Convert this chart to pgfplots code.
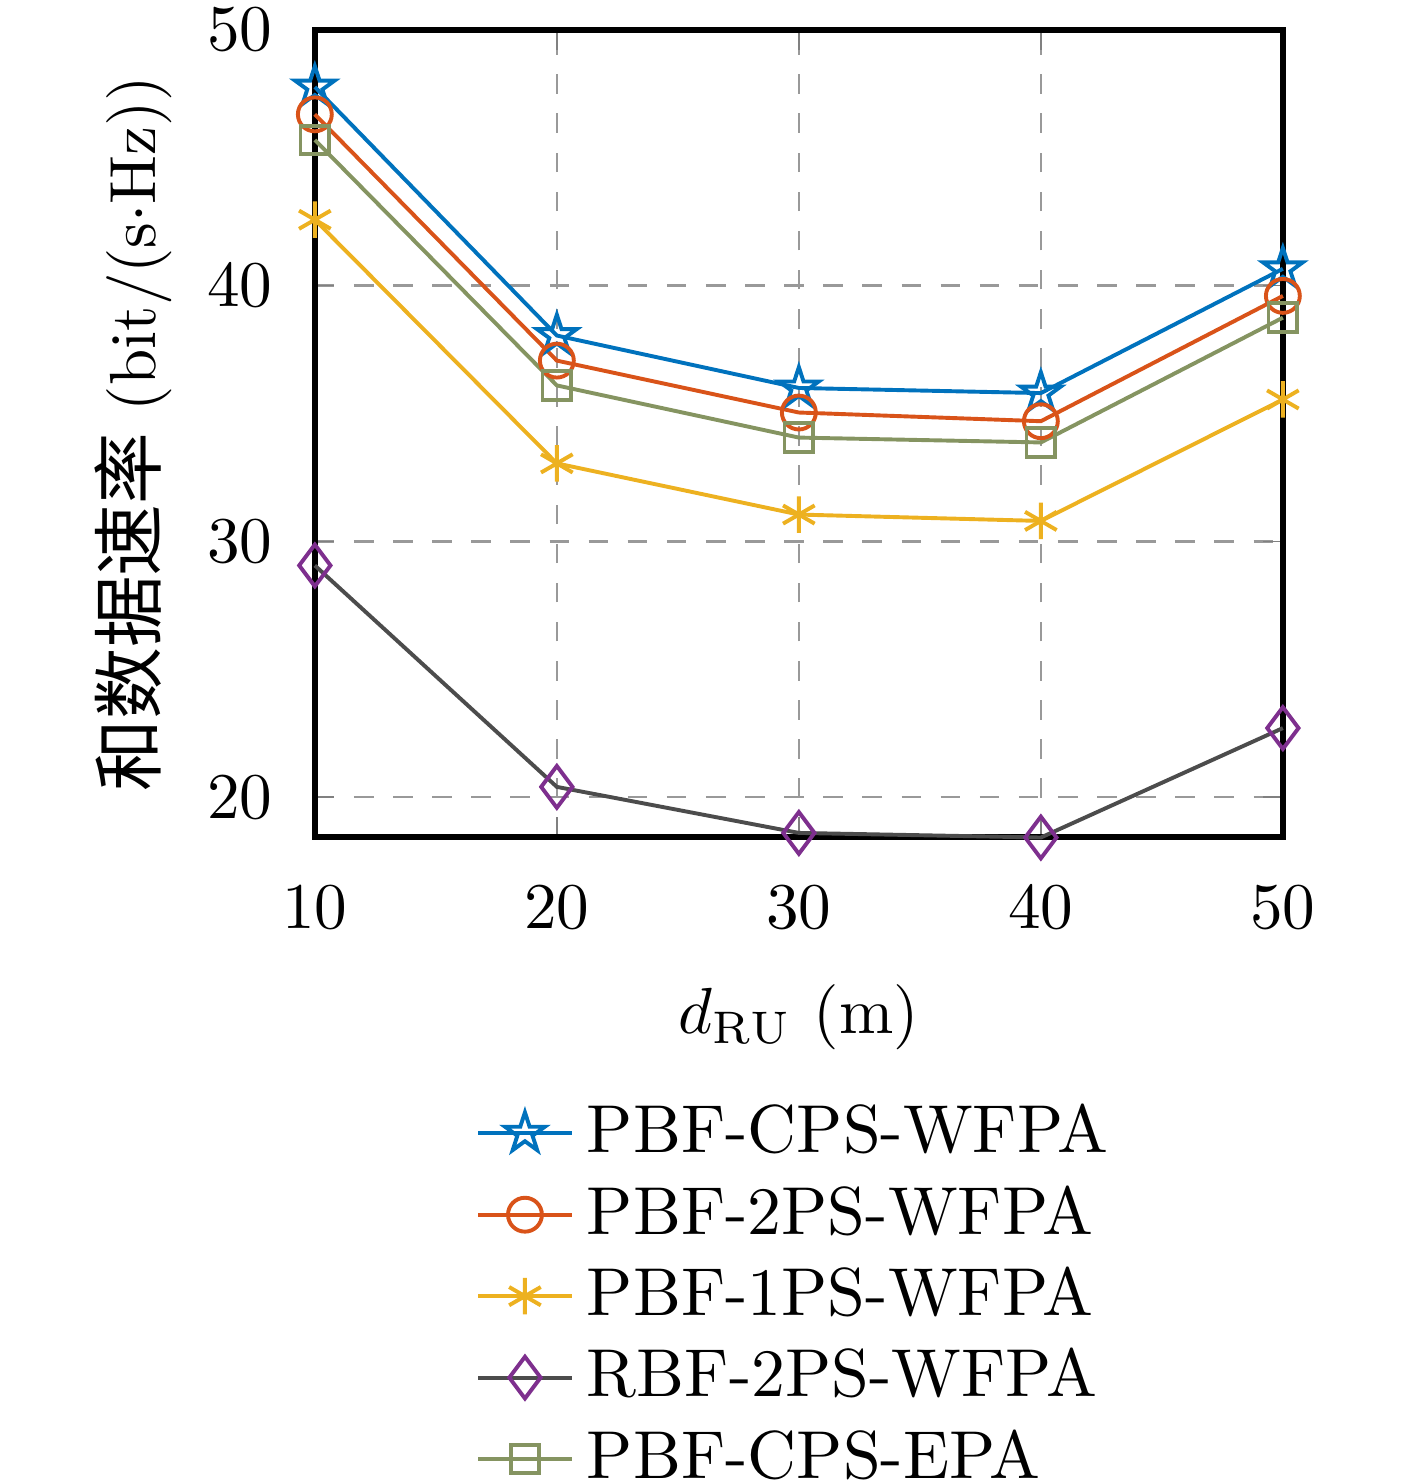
\documentclass[border=0pt]{standalone}
\usepackage{pgfplots}
\pgfplotsset{compat=1.18}
\usepackage{fontspec}
\newfontfamily\cjk[Scale=1.1]{Noto Sans CJK SC}
\usetikzlibrary{calc}
\definecolor{mblue}{rgb}{0,0.447,0.741}
\definecolor{mred}{rgb}{0.851,0.325,0.098}
\definecolor{myellow}{rgb}{0.929,0.694,0.125}
\definecolor{mpurple}{rgb}{0.494,0.184,0.557}
\definecolor{mgray}{rgb}{0.3,0.3,0.3}
\definecolor{molive}{rgb}{0.52,0.58,0.38}
\pgfdeclareplotmark{pentagram}{%
  \pgfpathmoveto{\pgfqpointpolar{90}{\pgfplotmarksize}}%
  \pgfpathlineto{\pgfqpointpolar{126}{0.382\pgfplotmarksize}}%
  \pgfpathlineto{\pgfqpointpolar{162}{\pgfplotmarksize}}%
  \pgfpathlineto{\pgfqpointpolar{198}{0.382\pgfplotmarksize}}%
  \pgfpathlineto{\pgfqpointpolar{234}{\pgfplotmarksize}}%
  \pgfpathlineto{\pgfqpointpolar{270}{0.382\pgfplotmarksize}}%
  \pgfpathlineto{\pgfqpointpolar{306}{\pgfplotmarksize}}%
  \pgfpathlineto{\pgfqpointpolar{342}{0.382\pgfplotmarksize}}%
  \pgfpathlineto{\pgfqpointpolar{18}{\pgfplotmarksize}}%
  \pgfpathlineto{\pgfqpointpolar{54}{0.382\pgfplotmarksize}}%
  \pgfpathclose
  \pgfusepathqstroke}
\begin{document}
\begin{tikzpicture}
\begin{axis}[
  scale only axis,
  width=148.5pt, height=123.8pt,
  xmin=10, xmax=50, ymin=18.44, ymax=50,
  xtick={10,20,30,40,50}, ytick={20,30,40,50},
  tick align=inside,
  major tick length=3pt,
  axis line style={line width=0.9pt},
  grid=major,
  major grid style={dashed, gray!80, line width=0.4pt},
  xticklabel style={yshift=-4pt},
  yticklabel style={xshift=-3pt},
  xlabel={$d_{\mathrm{RU}}$ (m)},
  xlabel style={yshift=-1.8pt},
  ylabel={{\cjk 和数据速率} (bit/(s$\cdot$Hz))},
  ylabel style={yshift=-1.5pt},
  clip=false,
  every axis plot/.append style={line width=0.6pt},
  legend style={draw=none, fill=none, at={(0.5,-0.297)}, anchor=north,
    row sep=-0.45pt, font=\fontsize{10.4}{12.2}\selectfont, legend cell align=left},
  legend image code/.code={\draw[mark repeat=2,mark phase=2] plot coordinates {(0pt,0pt) (7.2pt,0pt) (14.4pt,0pt)};},
]
\coordinate (bl) at (rel axis cs:0,0);
\coordinate (tr) at (rel axis cs:1,1);
\addplot[color=mblue, mark=pentagram, mark size=3.2pt, mark options={solid, line width=0.6pt}] coordinates {
(10,47.77) (20,38.05) (30,36.0) (40,35.8) (50,40.66)};
\addlegendentry{PBF-CPS-WFPA}
\addplot[color=mred, mark=o, mark size=2.6pt, mark options={solid}] coordinates {
(10,46.7) (20,37.07) (30,35.04) (40,34.7) (50,39.6)};
\addlegendentry{PBF-2PS-WFPA}
\addplot[color=myellow, mark=asterisk, mark size=2.8pt, mark options={solid}] coordinates {
(10,42.58) (20,33.05) (30,31.05) (40,30.8) (50,35.55)};
\addlegendentry{PBF-1PS-WFPA}
\addplot[color=mgray, mark=diamond, mark size=3.2pt, mark options={solid, draw=mpurple}] coordinates {
(10,29.06) (20,20.4) (30,18.6) (40,18.42) (50,22.7)};
\addlegendentry{RBF-2PS-WFPA}
\addplot[color=molive, mark=square, mark size=2.2pt, mark options={solid}] coordinates {
(10,45.7) (20,36.1) (30,34.06) (40,33.87) (50,38.75)};
\addlegendentry{PBF-CPS-EPA}
\end{axis}
\pgfresetboundingbox
\path ($(bl)+(-48.3pt,-99.1pt)$) rectangle ($(tr)+(20.55pt,4.6pt)$);
\end{tikzpicture}
\end{document}
